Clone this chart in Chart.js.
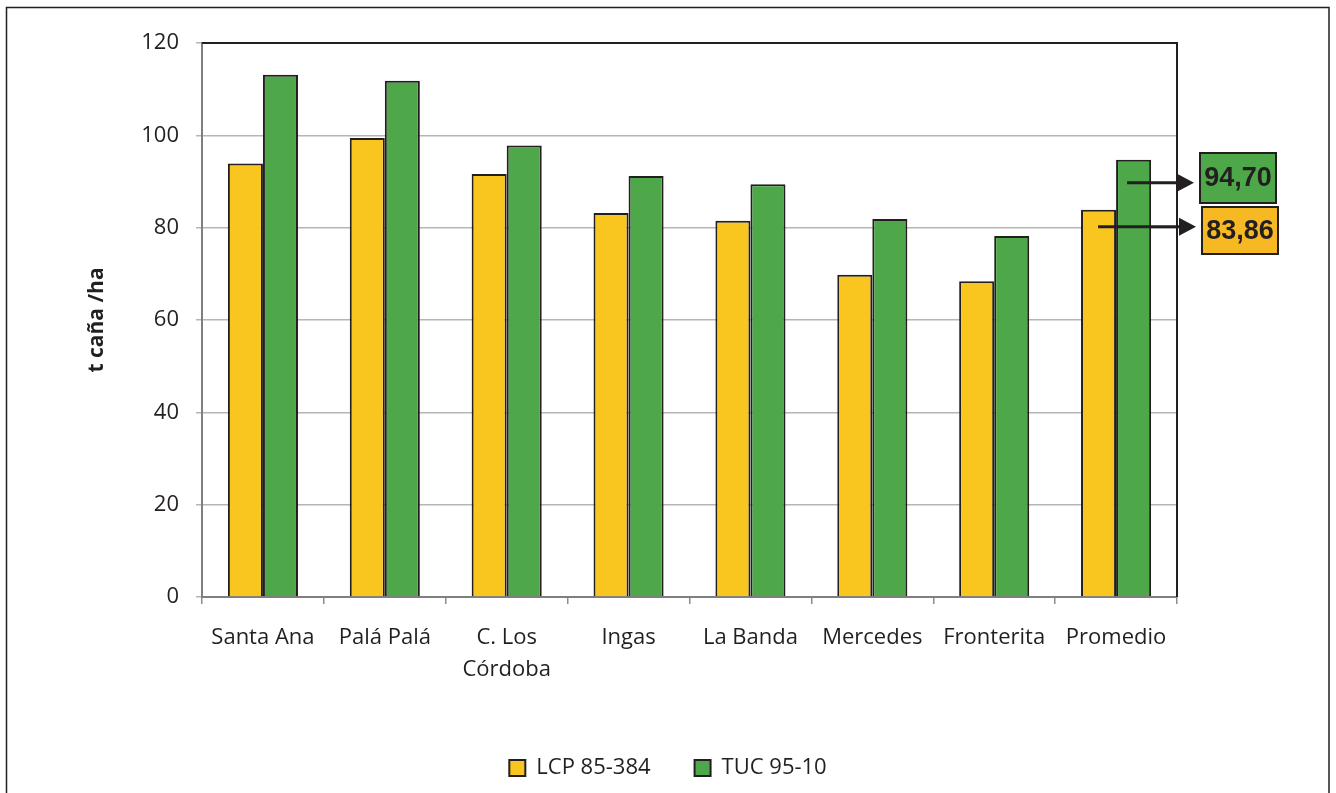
<!DOCTYPE html>
<html lang="es">
<head>
<meta charset="utf-8">
<title>t caña /ha</title>
<script src="https://cdn.jsdelivr.net/npm/chart.js@4/dist/chart.umd.min.js"></script>
<style>
  html, body { margin: 0; padding: 0; background: #ffffff; }
  #wrap { position: relative; width: 1336px; height: 793px; }
</style>
</head>
<body>
<div id="wrap"><canvas id="c"></canvas></div>
<script>
// Localidades y rendimientos (t caña /ha)
const categories = [
  'Santa Ana', 'Palá Palá', ['C. Los', 'Córdoba'], 'Ingas',
  'La Banda', 'Mercedes', 'Fronterita', 'Promedio'
];
const lcp = [93.9, 99.4, 91.6, 83.2, 81.5, 69.8, 68.4, 83.86];
const tuc = [113.1, 111.8, 97.8, 91.2, 89.4, 81.9, 78.2, 94.70];
const seriesNames = ['LCP 85-384', 'TUC 95-10'];
const yTicks = [0, 20, 40, 60, 80, 100, 120];

const YELLOW = '#F9C51F';
const GREEN = '#4EA84A';
const ORANGE = '#F6B924';
const INK = '#231f20';
const FONT = "'Open Sans', 'Liberation Sans', sans-serif";

// Page frame plus the black top/right edges of the plot area
const framePlugin = {
  id: 'frame',
  beforeDraw(chart) {
    const ctx = chart.ctx;
    ctx.save();
    ctx.strokeStyle = INK;
    ctx.lineWidth = 1.5;
    ctx.strokeRect(6.5, 7.5, 1322.5, 800);
    ctx.restore();
  },
  afterDatasetsDraw(chart) {
    const { ctx, chartArea: a } = chart;
    ctx.save();
    ctx.strokeStyle = INK;
    ctx.lineWidth = 2;
    ctx.beginPath();
    ctx.moveTo(a.left, a.top);
    ctx.lineTo(a.right, a.top);
    ctx.lineTo(a.right, a.bottom);
    ctx.stroke();
    ctx.restore();
  }
};

// Averages called out beside the last group with arrows
const calloutPlugin = {
  id: 'callouts',
  afterDraw(chart) {
    const ctx = chart.ctx;
    const x = chart.scales.x, y = chart.scales.y;
    const last = categories.length - 1;
    const items = [
      { value: tuc[last], fill: GREEN, dy: 23, startX: x.getPixelForValue(last) + 11, boxX: 1200, boxY: 153, w: 76, h: 50 },
      { value: lcp[last], fill: ORANGE, dy: 17, startX: x.getPixelForValue(last) - 18, boxX: 1202, boxY: 207, w: 76, h: 47 }
    ];
    ctx.save();
    items.forEach(it => {
      const ay = y.getPixelForValue(it.value) + it.dy;
      const tip = it.boxX - 6;
      // shaft
      ctx.strokeStyle = INK;
      ctx.lineWidth = 3;
      ctx.beginPath();
      ctx.moveTo(it.startX, ay);
      ctx.lineTo(tip - 12, ay);
      ctx.stroke();
      // head
      ctx.fillStyle = INK;
      ctx.beginPath();
      ctx.moveTo(tip, ay);
      ctx.lineTo(tip - 17, ay - 9);
      ctx.lineTo(tip - 17, ay + 9);
      ctx.closePath();
      ctx.fill();
      // box
      ctx.fillStyle = it.fill;
      ctx.fillRect(it.boxX, it.boxY, it.w, it.h);
      ctx.lineWidth = 2;
      ctx.strokeStyle = INK;
      ctx.strokeRect(it.boxX, it.boxY, it.w, it.h);
      // text
      ctx.fillStyle = INK;
      ctx.font = "bold 27px 'Liberation Sans', Arial, sans-serif";
      ctx.textAlign = 'center';
      ctx.textBaseline = 'middle';
      ctx.fillText(it.value.toFixed(2).replace('.', ','), it.boxX + it.w / 2, it.boxY + it.h / 2 + 1);
    });
    ctx.restore();
  }
};

new Chart(document.getElementById('c'), {
  type: 'bar',
  data: {
    labels: categories,
    datasets: [
      { label: seriesNames[0], data: lcp, backgroundColor: YELLOW, borderColor: INK, borderWidth: 2 },
      { label: seriesNames[1], data: tuc, backgroundColor: GREEN, borderColor: INK, borderWidth: 2 }
    ]
  },
  options: {
    responsive: true,
    maintainAspectRatio: false,
    animation: false,
    datasets: { bar: { categoryPercentage: 0.575, barPercentage: 1.0 } },
    layout: { padding: { left: 0, right: 0, top: 43, bottom: 4 } },
    plugins: {
      tooltip: { enabled: false },
      legend: {
        position: 'bottom',
        labels: {
          boxWidth: 16, boxHeight: 16, padding: 44,
          color: INK,
          font: { family: FONT, size: 22 }
        }
      }
    },
    scales: {
      x: {
        grid: {
          offset: true,
          drawOnChartArea: false,
          drawTicks: true,
          tickLength: 7,
          color: '#8c8c8c',
          lineWidth: 1.5
        },
        border: { display: true, color: '#7f7f7f', width: 2 },
        ticks: {
          color: INK,
          padding: 18,
          maxRotation: 0,
          autoSkip: false,
          font: { family: FONT, size: 22, lineHeight: 1.45 }
        },
        afterFit(scale) {
          const lg = scale.chart.legend ? scale.chart.legend.height : 40;
          scale.height = 793 - 4 - lg - 597;
        }
      },
      y: {
        min: 0,
        max: 120,
        afterBuildTicks(scale) { scale.ticks = yTicks.map(v => ({ value: v })); },
        grid: {
          color: '#b5b5b5',
          lineWidth: 1.5,
          drawTicks: true,
          tickLength: 6
        },
        border: { display: true, color: '#7f7f7f', width: 2 },
        ticks: {
          color: INK,
          padding: 17,
          font: { family: FONT, size: 22 }
        },
        title: {
          display: true,
          text: 't caña /ha',
          color: INK,
          font: { family: FONT, size: 21, weight: 'bold' },
          padding: { top: 84, bottom: 0 }
        },
        afterFit(scale) { scale.width = 202; }
      },
      // blank right-hand margin that holds the callout boxes
      side: {
        position: 'right',
        min: 0,
        max: 120,
        grid: { display: false },
        border: { display: false },
        ticks: { display: false },
        afterFit(scale) { scale.width = 159; }
      }
    }
  },
  plugins: [framePlugin, calloutPlugin]
});
</script>
</body>
</html>
